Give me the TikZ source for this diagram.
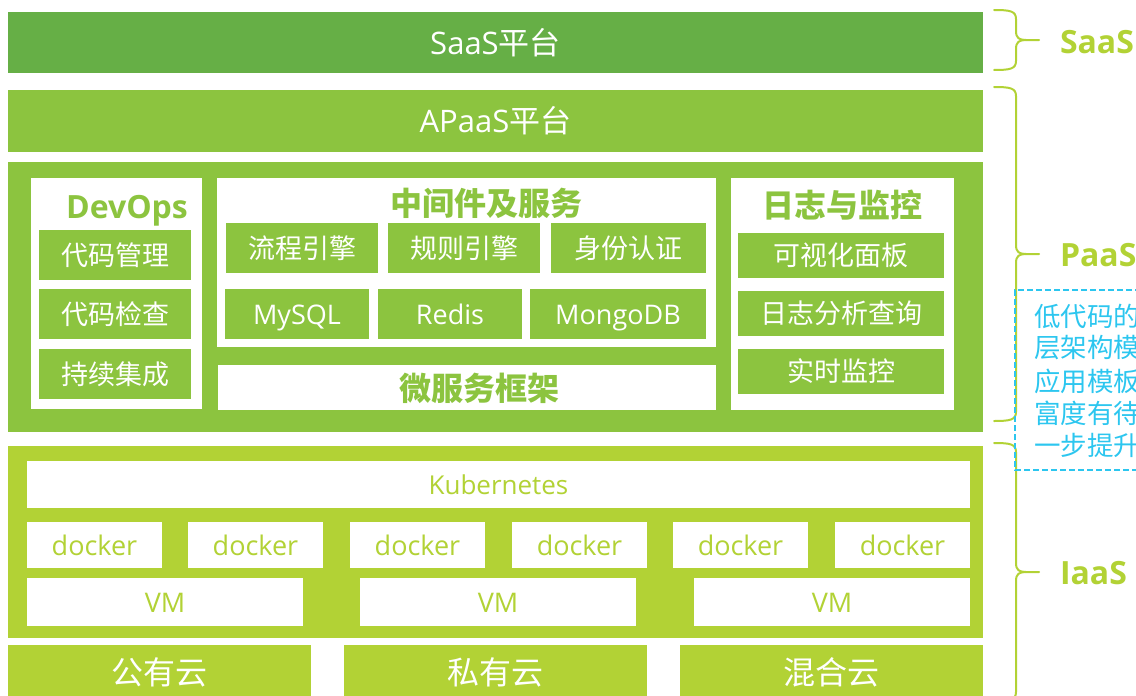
\documentclass[tikz,border=0pt]{standalone}
\usepackage{fontspec}
\setmainfont{Open Sans}
\newfontfamily\cjk{Noto Sans CJK SC}
\definecolor{saasg}{HTML}{66AF46}
\definecolor{paasg}{HTML}{8CC43F}
\definecolor{iaasg}{HTML}{B2D235}
\definecolor{cyanb}{HTML}{2CC6EF}
\tikzset{
  base/.style={inner sep=0pt, outer sep=0pt, draw=none, align=center},
  solid box/.style={base, fill=#1, text=white},
  white box/.style={base, fill=white, text=#1},
  bigf/.style={font=\fontsize{31}{36}\selectfont, text height=27.3pt, text depth=3.7pt},
  midf/.style={font=\fontsize{27}{32}\selectfont, text height=23.8pt, text depth=3.2pt},
  k8sf/.style={font=\fontsize{26}{30}\selectfont, text height=22.9pt, text depth=3.1pt},
  cloudf/.style={font=\fontsize{32}{36}\selectfont, text height=28.2pt, text depth=3.8pt},
  title/.style={base, text=paasg, font=\fontsize{32}{36}\selectfont\bfseries, text height=28.2pt, text depth=3.8pt},
  sidelabel/.style={base, anchor=west, text=iaasg, font=\fontsize{32}{36}\selectfont\bfseries, text height=28.2pt, text depth=3.8pt},
  notef/.style={base, anchor=west, text=cyanb, font=\cjk\fontsize{26.5}{30}\selectfont, text height=23.3pt, text depth=3.2pt},
  brace line/.style={draw=iaasg, line width=2pt, line cap=round, line join=round},
}
\newcommand{\bx}[7]{\node[#6, minimum width={(#4-#2)*1pt}, minimum height={(#5-#3)*1pt}] (#1) at ({(#2+#4)/2},{(#3+#5)/2}) {#7};}
\newcommand{\bracepath}[2]{% top, bottom
  \pgfmathsetmacro{\bmid}{(#1+#2)/2}
  \draw[brace line] (994,#1) .. controls (1010,#1) and (1016,#1+1) .. (1016,#1+9) -- (1016,\bmid-9)
     .. controls (1016,\bmid-2) and (1019,\bmid) .. (1026,\bmid) -- (1039,\bmid);
  \draw[brace line] (1026,\bmid) .. controls (1019,\bmid) and (1016,\bmid+2) .. (1016,\bmid+9) -- (1016,#2-9)
     .. controls (1016,#2-1) and (1010,#2) .. (994,#2);
}
\begin{document}
\begin{tikzpicture}[x=1pt,y=-1pt]
\useasboundingbox (0,0) rectangle (1136,696);
% SaaS
\bx{saas}{8}{12}{983}{73}{solid box=saasg, bigf}{SaaS{\cjk 平台}}
% APaaS
\bx{apaas}{8}{90}{983}{152}{solid box=paasg, bigf}{APaaS{\cjk 平台}}
% PaaS block
\bx{paas}{8}{162}{983}{432}{solid box=paasg}{}
% DevOps
\bx{devops}{31}{178}{202}{409}{white box=paasg}{}
\node[title] (devopst) at (127,206) {DevOps};
\bx{dm1}{39}{230}{191}{280}{solid box=paasg, midf}{\cjk 代码管理}
\bx{dm2}{39}{289}{191}{339}{solid box=paasg, midf}{\cjk 代码检查}
\bx{dm3}{39}{349}{191}{399}{solid box=paasg, midf}{\cjk 持续集成}
% Middleware
\bx{mid}{217}{178}{716}{347}{white box=paasg}{}
\node[title] (midt) at (486,203) {\cjk 中间件及服务};
\bx{m1}{226}{223}{378}{273}{solid box=paasg, midf}{\cjk 流程引擎}
\bx{m2}{388}{223}{540}{273}{solid box=paasg, midf}{\cjk 规则引擎}
\bx{m3}{551}{223}{706}{273}{solid box=paasg, midf}{\cjk 身份认证}
\bx{m4}{225}{289}{369}{339}{solid box=paasg, midf}{MySQL}
\bx{m5}{378}{289}{522}{339}{solid box=paasg, midf}{Redis}
\bx{m6}{530}{289}{706}{339}{solid box=paasg, midf}{MongoDB}
% Microservice framework
\bx{msf}{218}{365}{716}{410}{white box=paasg}{}
\node[title] (msft) at (479,388) {\cjk 微服务框架};
% Logging
\bx{log}{731}{178}{954}{410}{white box=paasg}{}
\node[title] (logt) at (842,205) {\cjk 日志与监控};
\bx{l1}{738}{233}{944}{278}{solid box=paasg, midf}{\cjk 可视化面板}
\bx{l2}{738}{291}{944}{336}{solid box=paasg, midf}{\cjk 日志分析查询}
\bx{l3}{738}{349}{944}{394}{solid box=paasg, midf}{\cjk 实时监控}
% IaaS block
\bx{iaas}{8}{446}{983}{638}{solid box=iaasg}{}
\bx{k8s}{27}{461}{970}{508}{white box=iaasg, k8sf}{Kubernetes}
\bx{d1}{27}{522}{162}{568}{white box=iaasg, midf}{docker}
\bx{d2}{188}{522}{323}{568}{white box=iaasg, midf}{docker}
\bx{d3}{350}{522}{485}{568}{white box=iaasg, midf}{docker}
\bx{d4}{512}{522}{647}{568}{white box=iaasg, midf}{docker}
\bx{d5}{673}{522}{808}{568}{white box=iaasg, midf}{docker}
\bx{d6}{835}{522}{970}{568}{white box=iaasg, midf}{docker}
\bx{v1}{27}{578}{303}{626}{white box=iaasg, midf}{VM}
\bx{v2}{360}{578}{636}{626}{white box=iaasg, midf}{VM}
\bx{v3}{694}{578}{970}{626}{white box=iaasg, midf}{VM}
% Clouds
\bx{c1}{8}{645}{311}{699}{solid box=iaasg, cloudf}{\cjk 公有云}
\bx{c2}{344}{645}{647}{699}{solid box=iaasg, cloudf}{\cjk 私有云}
\bx{c3}{680}{645}{983}{699}{solid box=iaasg, cloudf}{\cjk 混合云}
% Braces
\bracepath{10}{70}
\bracepath{87}{421}
\bracepath{443}{701}
\node[sidelabel] (saasl) at (1060,41) {SaaS};
\node[sidelabel] (paasl) at (1060,254) {PaaS};
\node[sidelabel] (iaasl) at (1060,572) {IaaS};
% Dashed note
\draw[cyanb, line width=1.5pt, dash pattern=on 6pt off 3pt] (1150,290) -- (1015,290) -- (1015,470) -- (1150,470);
\node[notef] (note1) at (1034,316) {低代码的};
\node[notef] (note2) at (1034,347.5) {层架构模};
\node[notef] (note3) at (1034,381) {应用模板};
\node[notef] (note4) at (1034,413) {富度有待};
\node[notef] (note5) at (1034,445) {一步提升};
\end{tikzpicture}
\end{document}
